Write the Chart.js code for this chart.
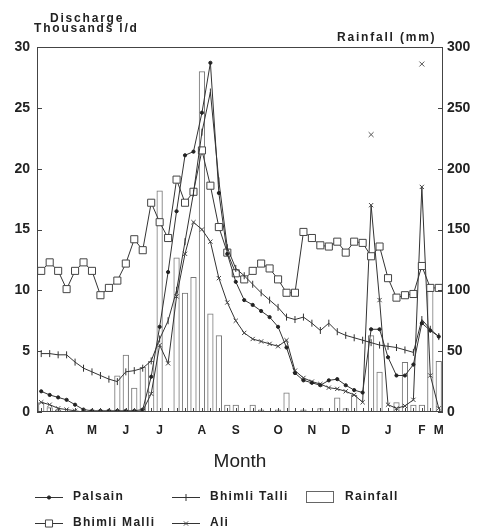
<!DOCTYPE html>
<html><head><meta charset="utf-8">
<script src="https://cdn.jsdelivr.net/npm/chart.js@4.4.0/dist/chart.umd.min.js"></script>
<style>html,body{margin:0;padding:0;background:#fff;}#wrap{width:485px;height:529px;}</style>
</head><body><div id="wrap"><canvas id="c" width="485" height="529"></canvas></div>
<script>
// Weekly categories, April to March; month letters at the week where each month starts
const monthLabels = ['', 'A', '', '', '', '', 'M', '', '', '', 'J', '', '', '', 'J', '', '', '', '', 'A', '', '', '', 'S',
  '', '', '', '', 'O', '', '', '', 'N', '', '', '', 'D', '', '', '', '', 'J', '', '', '', 'F', '', 'M'];

// Discharge, thousands l/d
const palsain = [1.7, 1.4, 1.2, 1.0, 0.6, 0.2, 0.1, 0.1, 0.1, 0.1, 0.1, 0.1, 0.2, 2.9, 7.0, 11.5, 16.5, 21.1, 21.4, 24.6,
  28.7, 18.0, 13.0, 10.7, 9.2, 8.8, 8.3, 7.8, 7.0, 5.3, 3.2, 2.6, 2.4, 2.2, 2.6, 2.7, 2.2, 1.8, 1.6, 6.8,
  6.8, 4.5, 3.0, 3.0, 3.9, 7.3, 6.7, 6.2];
const bhimliTalli = [4.8, 4.8, 4.7, 4.7, 4.1, 3.6, 3.3, 3.0, 2.7, 2.5, 3.3, 3.4, 3.6, 4.2, 6.0, 7.5, 10.0, 14.0, 18.0, 23.0,
  26.3, 19.0, 13.5, 11.8, 11.2, 10.5, 9.8, 9.2, 8.6, 7.8, 7.6, 7.8, 7.3, 6.7, 7.3, 6.6, 6.3, 6.1, 5.9, 5.7,
  5.5, 5.4, 5.3, 5.1, 4.9, 7.6, 6.8, 6.2];
const bhimliMalli = [11.6, 12.3, 11.6, 10.1, 11.6, 12.3, 11.6, 9.6, 10.2, 10.8, 12.2, 14.2, 13.3, 17.2, 15.6, 14.3, 19.1, 17.2, 18.1, 21.5,
  18.6, 15.2, 13.1, 11.4, 10.9, 11.6, 12.2, 11.8, 10.9, 9.8, 9.8, 14.8, 14.3, 13.7, 13.6, 14.0, 13.1, 14.0, 13.9, 12.8,
  13.6, 11.0, 9.4, 9.6, 9.7, 12.0, 10.2, 10.2];
const ali = [0.8, 0.6, 0.3, 0.2, 0.1, 0, 0, 0, 0, 0, 0, 0, 0.1, 1.5, 5.5, 4.0, 9.5, 13.0, 15.6, 15.0,
  14.0, 11.0, 9.0, 7.5, 6.5, 6.0, 5.8, 5.6, 5.4, 5.9, 3.4, 2.8, 2.5, 2.3, 2.0, 1.9, 1.7, 1.4, 0.8, 17.0,
  9.2, 0.6, 0.3, 0.5, 1.0, 18.5, 3.0, 0.3];
const aliIsolated = [null, null, null, null, null, null, null, null, null, null, null, null, null, null, null, null, null, null, null, null,
  null, null, null, null, null, null, null, null, null, null, null, null, null, null, null, null, null, null, null, 22.8,
  null, null, null, null, null, 28.6, null, null];
// Rainfall, mm
const rainfall = [8, 4, 2, 0, 0, 0, 0, 0, 0, 30, 47, 20, 37, 42, 182, 0, 127, 98, 111, 280,
  81, 63, 6, 6, 0, 6, 2, 0, 2, 16, 0, 2, 0, 3, 0, 12, 3, 14, 0, 63,
  33, 0, 8, 41, 6, 6, 100, 42];

const leftTicks = [0, 5, 10, 15, 20, 25, 30];
const rightTicks = [0, 50, 100, 150, 200, 250, 300];

const INK = '#222';
const FONT = "'Liberation Sans', Arial, sans-serif";

const lineBase = {type: 'line', borderColor: '#333', borderWidth: 1, tension: 0, order: 1, yAxisID: 'y', pointBorderWidth: 1};

const datasets = [
  Object.assign({}, lineBase, {label: 'Palsain', data: palsain, pointStyle: 'circle', pointRadius: 1.6,
    pointBackgroundColor: '#222', pointBorderColor: '#222'}),
  Object.assign({}, lineBase, {label: 'Bhimli Talli', data: bhimliTalli, pointStyle: 'line', pointRotation: 90, pointRadius: 3.5,
    pointBorderColor: '#333', pointBackgroundColor: '#333'}),
  Object.assign({}, lineBase, {label: 'Bhimli Malli', data: bhimliMalli, pointStyle: 'rect', pointRadius: 5,
    pointBorderColor: '#444', pointBackgroundColor: '#fff'}),
  Object.assign({}, lineBase, {label: 'Ali', data: ali, pointStyle: 'crossRot', pointRadius: 3,
    pointBorderColor: '#444', pointBackgroundColor: '#444'}),
  Object.assign({}, lineBase, {label: 'Ali ', data: aliIsolated, showLine: false, pointStyle: 'crossRot', pointRadius: 3.5,
    pointBorderColor: '#555', pointBackgroundColor: '#555'}),
  {type: 'bar', label: 'Rainfall', data: rainfall, yAxisID: 'y2', order: 5, backgroundColor: 'rgba(255,255,255,0)',
    borderColor: '#777', borderWidth: 1, barPercentage: 0.74, categoryPercentage: 1}
];

const legendItems = [
  {ds: 0, sx: 35, tx: 73, y: 497}, {ds: 1, sx: 172, tx: 210, y: 497}, {ds: 5, sx: 306, tx: 345, y: 497},
  {ds: 2, sx: 35, tx: 73, y: 523}, {ds: 3, sx: 172, tx: 210, y: 523}
];

const decor = {
  id: 'decor',
  afterDraw(chart) {
    const ctx = chart.ctx, a = chart.chartArea;
    ctx.save();
    ctx.strokeStyle = '#444'; ctx.lineWidth = 1;
    ctx.strokeRect(Math.round(a.left) + 0.5, Math.round(a.top) + 0.5, Math.round(a.right - a.left) - 1, Math.round(a.bottom - a.top) - 1);
    // inner tick marks
    ctx.beginPath();
    const xs = chart.scales.x;
    for (let i = 0; i < monthLabels.length; i++) {
      const px = Math.round(xs.getPixelForValue(i)) + 0.5;
      ctx.moveTo(px, a.bottom); ctx.lineTo(px, a.bottom - 4);
    }
    leftTicks.forEach(v => { const py = Math.round(chart.scales.y.getPixelForValue(v)) + 0.5; ctx.moveTo(a.left, py); ctx.lineTo(a.left + 5, py); });
    rightTicks.forEach(v => { const py = Math.round(chart.scales.y2.getPixelForValue(v)) + 0.5; ctx.moveTo(a.right - 5, py); ctx.lineTo(a.right, py); });
    ctx.stroke();
    // axis titles
    ctx.fillStyle = INK; ctx.textBaseline = 'alphabetic'; ctx.textAlign = 'left';
    ctx.font = 'bold 12px ' + FONT;
    ctx.letterSpacing = '1.8px';
    ctx.fillText('Discharge', 50, 22);
    ctx.fillText('Thousands l/d', 34, 32);
    ctx.fillText('Rainfall (mm)', 337, 41);
    // legend
    ctx.font = 'bold 12px ' + FONT;
    ctx.letterSpacing = '1.3px';
    ctx.textBaseline = 'middle';
    legendItems.forEach(it => {
      const ds = chart.data.datasets[it.ds];
      if (ds.type === 'bar') {
        ctx.strokeStyle = '#666'; ctx.lineWidth = 1;
        ctx.strokeRect(it.sx + 0.5, it.y - 5.5, 27, 11);
      } else {
        ctx.strokeStyle = '#333'; ctx.lineWidth = 1;
        ctx.beginPath(); ctx.moveTo(it.sx, it.y + 0.5); ctx.lineTo(it.sx + 28, it.y + 0.5); ctx.stroke();
        ctx.fillStyle = ds.pointBackgroundColor; ctx.strokeStyle = ds.pointBorderColor;
        Chart.helpers.drawPoint(ctx, {pointStyle: ds.pointStyle, radius: ds.pointRadius, rotation: ds.pointRotation || 0, borderWidth: 1}, it.sx + 14, it.y + 0.5);
      }
      ctx.fillStyle = INK;
      ctx.fillText(ds.label, it.tx, it.y);
    });
    ctx.letterSpacing = '0px';
    ctx.restore();
  }
};

new Chart(document.getElementById('c'), {
  type: 'bar',
  data: {labels: monthLabels, datasets: datasets},
  options: {
    responsive: false, animation: false, devicePixelRatio: 1,
    layout: {padding: {top: 47, bottom: 56, left: 0, right: 0}},
    plugins: {legend: {display: false}, tooltip: {enabled: false}},
    scales: {
      x: {
        type: 'category', offset: true,
        grid: {display: false, drawTicks: false}, border: {display: false},
        ticks: {autoSkip: false, maxRotation: 0, color: INK, font: {family: FONT, size: 12, weight: 'bold'}, padding: 11},
        title: {display: true, text: 'Month', color: INK, font: {family: FONT, size: 19}, padding: {top: 0, bottom: 0}},
        afterFit(s) { s.height = 61; }
      },
      y: {
        position: 'left', min: 0, max: 30,
        afterBuildTicks(s) { s.ticks = leftTicks.map(v => ({value: v})); },
        grid: {display: false, drawTicks: false}, border: {display: false},
        ticks: {color: INK, font: {family: FONT, size: 14, weight: 'bold'}, padding: 7},
        afterFit(s) { s.width = 37; }
      },
      y2: {
        position: 'right', min: 0, max: 300,
        afterBuildTicks(s) { s.ticks = rightTicks.map(v => ({value: v})); },
        grid: {display: false, drawTicks: false}, border: {display: false},
        ticks: {color: INK, font: {family: FONT, size: 14, weight: 'bold'}, padding: 4},
        afterFit(s) { s.width = 42; }
      }
    }
  },
  plugins: [decor]
});
</script>
</body></html>
